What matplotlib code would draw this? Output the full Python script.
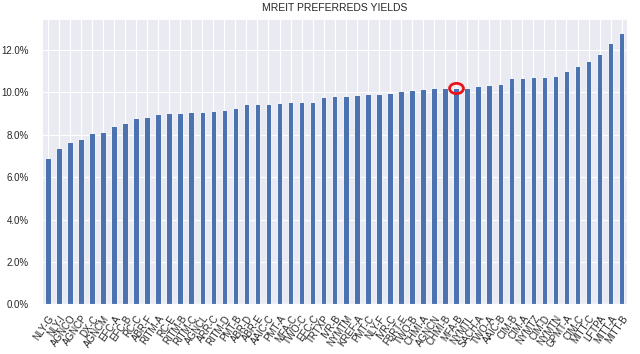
import numpy as np
import matplotlib
matplotlib.use('Agg')
import matplotlib.pyplot as plt
import matplotlib.ticker as mtick
from matplotlib.path import Path
from matplotlib.transforms import Affine2D
import seaborn as sns

tickers = ['NLY-G', 'NLY-I', 'AGNCO', 'AGNCP', 'DX-C', 'AGNCM', 'EFC-A', 'EFC-B',
           'RC-C', 'ABR-F', 'RITM-A', 'RC-E', 'RITM-B', 'RITM-C', 'AGNCL', 'ARR-C',
           'RITM-D', 'PMT-B', 'ABR-D', 'ABR-E', 'AAIC-C', 'PMT-A', 'MFA-C', 'TWO-C',
           'EFC-C', 'TRTXP', 'IVR-B', 'NYMTM', 'KREF-A', 'PMT-C', 'NLY-F', 'IVR-C',
           'FBRT-E', 'TWO-B', 'CHMI-A', 'AGNCN', 'CHMI-B', 'MFA-B', 'NYMTL', 'SACH-A',
           'TWO-A', 'AAIC-B', 'CIM-B', 'CIM-A', 'NYMTZ', 'CIM-D', 'NYMTN', 'GPMT-A',
           'CIM-C', 'MITT-C', 'LFTPA', 'MITT-A', 'MITT-B']

yields = [6.90, 7.39, 7.64, 7.80, 8.10, 8.13, 8.43, 8.56, 8.81, 8.85,
          8.97, 9.01, 9.01, 9.07, 9.07, 9.12, 9.18, 9.26, 9.44, 9.44,
          9.44, 9.49, 9.53, 9.53, 9.56, 9.80, 9.84, 9.84, 9.89, 9.94,
          9.94, 9.97, 10.05, 10.13, 10.15, 10.19, 10.19, 10.22, 10.21, 10.29,
          10.33, 10.41, 10.66, 10.69, 10.74, 10.74, 10.79, 11.00, 11.25, 11.50,
          11.83, 12.35, 12.82]

highlight = 'MFA-B'

sns.set_style('darkgrid')
plt.rcParams['font.family'] = ['Liberation Sans', 'DejaVu Sans']

fig = plt.figure(figsize=(6.4, 3.54), dpi=100)
ax = fig.add_axes([0.066, 0.140, 0.914, 0.806])

x = np.arange(len(tickers))
vals = np.array(yields) / 100
ax.bar(x, vals, width=0.5, color='#4C72B0', edgecolor='white', linewidth=0.6, zorder=2)

# red ring around the highlighted issue (slightly wider than tall)
ring = Path.unit_circle().transformed(Affine2D().scale(1.35, 1.0))
i = tickers.index(highlight)
ax.plot(x[i], vals[i], marker=ring, markersize=10, markerfacecolor='none',
        markeredgecolor='#e8141c', markeredgewidth=2, zorder=3)

ax.set_xlim(-0.5, len(tickers) - 0.5)
ax.set_ylim(0, vals.max() * 1.05)
ax.set_xticks(x)
ax.set_xticklabels(tickers, rotation=55, ha='right', rotation_mode='anchor', fontsize=7)
ax.yaxis.set_major_locator(mtick.MultipleLocator(0.02))
ax.yaxis.set_major_formatter(mtick.PercentFormatter(1.0, decimals=1))
ax.tick_params(axis='y', labelsize=7, pad=6)
ax.tick_params(axis='x', pad=3)
ax.set_title('MREIT PREFERREDS YIELDS', fontsize=7.5, color='#262626', pad=6)

fig.savefig('out.png', dpi=100)
